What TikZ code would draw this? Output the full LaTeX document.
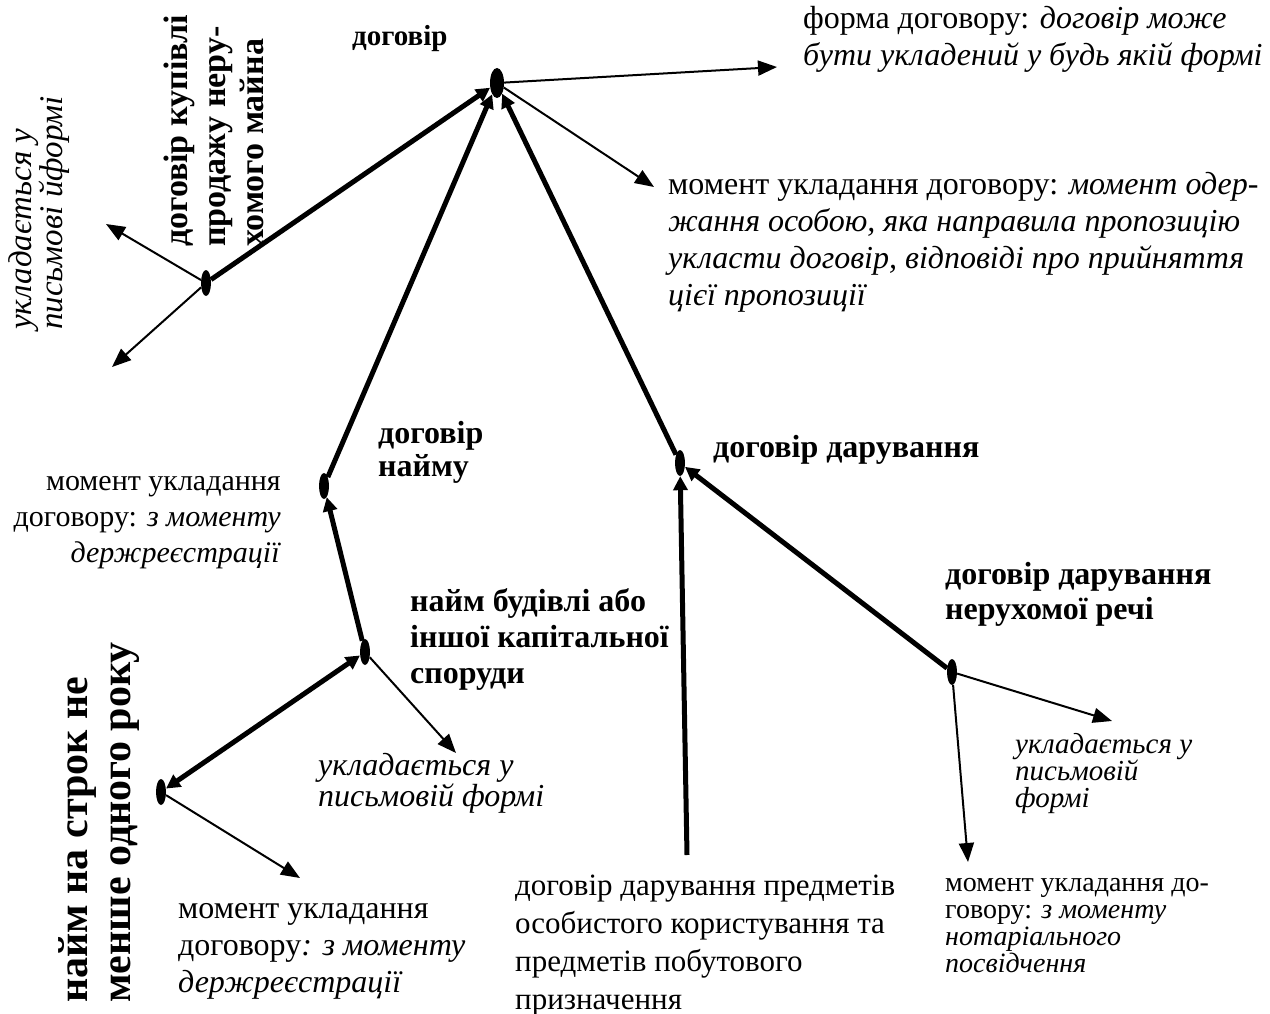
\documentclass[tikz,border=0pt]{standalone}
\usepackage{fontspec}
\setmainfont{Liberation Serif}
\usetikzlibrary{arrows.meta,shapes.geometric}
\begin{document}
\begin{tikzpicture}[x=1pt,y=-1pt,
  dot/.style={ellipse,fill=black,draw=none,minimum width=10pt,minimum height=26pt,inner sep=0pt},
  thin/.style={line width=2pt,-{Triangle[length=19pt,width=15pt]}},
  thick/.style={line width=5pt,-{Triangle[length=14pt,width=14pt]}},
  txt/.style={inner sep=0pt,align=left,anchor=north west,font=\fontsize{32}{37}\selectfont},
  tight/.style={inner sep=0pt,align=left,anchor=north west,font=\fontsize{28}{27}\selectfont},
]
\useasboundingbox (0,0) rectangle (1270,1014);
% dots
\node[dot,minimum width=14pt,minimum height=30pt] (A) at (497,83) {};
\node[dot] (B) at (206,283) {};
\node[dot] (C) at (324,486) {};
\node[dot] (D) at (365,652) {};
\node[dot] (E) at (161,792) {};
\node[dot] (F) at (680,463) {};
\node[dot] (G) at (952,672) {};
% free ends
\coordinate (aForm) at (777,67);
\coordinate (aMom) at (654,187);
\coordinate (bUp) at (106,224);
\coordinate (bDn) at (112,367);
\coordinate (dOut) at (456,753);
\coordinate (eOut) at (300,878);
\coordinate (fBot) at (687,855);
\coordinate (gR) at (1112,721);
\coordinate (gD) at (968,862);
% texts
\node[txt,font=\fontsize{29}{37}\selectfont\bfseries] (t1) at (352,25) {договір};
\node[txt] (t2) at (803,6) {форма договору: \textit{договір може}\\\textit{бути укладений у будь якій формі}};
\node[txt] (t3) at (668,172) {момент укладання договору: \textit{момент одер-}\\\textit{жання особою, яка направила пропозицію}\\\textit{укласти договір, відповіді про прийняття}\\\textit{цієї пропозиції}};
\node[txt,font=\fontsize{32}{33}\selectfont\bfseries] (t4) at (378,421) {договір\\найму};
\node[txt,align=right,anchor=north east,font=\fontsize{30}{36}\selectfont] (t5) at (281,476) {момент укладання\\договору: \textit{з моменту}\\\textit{держреєстрації}};
\node[txt,font=\fontsize{32}{36}\selectfont\bfseries] (t6) at (410,588) {найм будівлі або\\іншої капітальної\\споруди};
\node[tight,font=\fontsize{32}{28}\selectfont\itshape] (t7) at (318,753) {укладається у\\письмовій формі};
\node[txt] (t8) at (178,903) {момент укладання\\договору\textit{: з моменту}\\\textit{держреєстрації}};
\node[txt,font=\fontsize{32}{37}\selectfont\bfseries] (t9) at (713,435) {договір дарування};
\node[txt,font=\fontsize{32}{35}\selectfont\bfseries] (t10) at (945,562) {договір дарування\\нерухомої речі};
\node[tight,font=\fontsize{29}{27}\selectfont\itshape] (t11) at (1015,733) {укладається у\\письмовій\\формі};
\node[txt,font=\fontsize{31}{38}\selectfont] (t12) at (515,875) {договір дарування предметів\\особистого користування та\\предметів побутового\\призначення};
\node[tight] (t13) at (945,878) {момент укладання до-\\говору: \textit{з моменту}\\\textit{нотаріального}\\\textit{посвідчення}};
% rotated
\node[txt,rotate=90,font=\fontsize{34}{38}\selectfont\bfseries] (r1) at (164,247) {договір купівлі\\продажу неру-\\хомого майна};
\node[txt,rotate=90,font=\fontsize{33}{28}\selectfont\itshape] (r2) at (8,330) {укладається у\\письмові йформі};
\node[txt,rotate=90,font=\fontsize{42}{43}\selectfont\bfseries] (r3) at (58,1003) {найм на строк не\\менше одного року};
% connectors
\draw[thick] (B) -- (A);
\draw[thick] (C) -- (A);
\draw[thick] (F) -- (A);
\draw[thin] (A) -- (aForm);
\draw[thin] (A) -- (aMom);
\draw[thin] (B) -- (bUp);
\draw[thin] (B) -- (bDn);
\draw[thick] (D) -- (C);
\draw[thick,{Triangle[length=14pt,width=14pt]}-{Triangle[length=14pt,width=14pt]}] (E) -- (D);
\draw[thin] (D) -- (dOut);
\draw[thin] (E) -- (eOut);
\draw[thick] (fBot) -- (F);
\draw[thick] (G) -- (F);
\draw[thin] (G) -- (gR);
\draw[thin] (G) -- (gD);
\end{tikzpicture}
\end{document}
